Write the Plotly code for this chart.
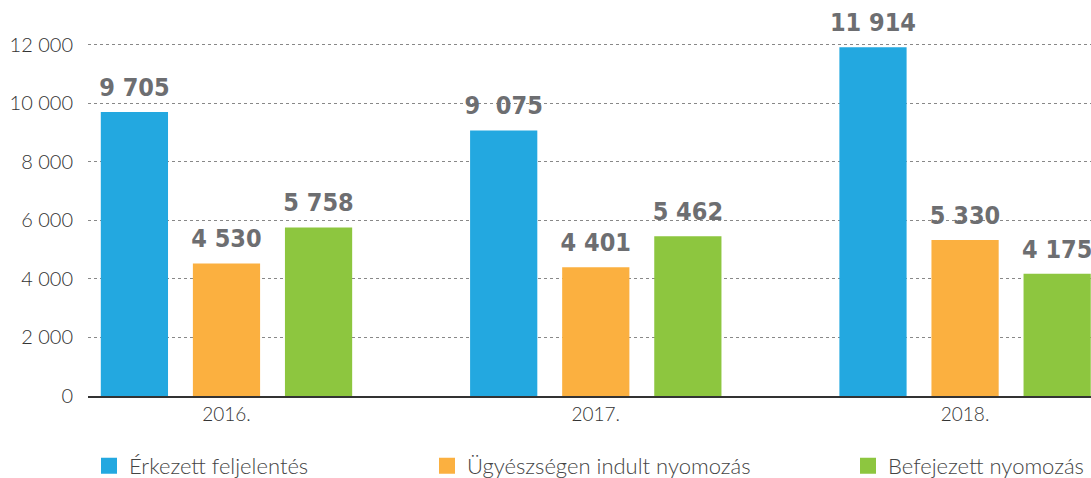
import plotly.graph_objects as go

years = ["2016.", "2017.", "2018."]
series_names = ["Érkezett feljelentés", "Ügyészségen indult nyomozás", "Befejezett nyomozás"]
erkezett = [9705, 9075, 11914]
ugyeszseg = [4530, 4401, 5330]
befejezett = [5758, 5462, 4175]
erkezett_lbl = ["9 705", "9  075", "11 914"]
ugyeszseg_lbl = ["4 530", "4 401", "5 330"]
befejezett_lbl = ["5 758", "5 462", "4 175"]
colors = ["#23a8e0", "#fbb040", "#8dc63f"]
y_ticks = [0, 2000, 4000, 6000, 8000, 10000, 12000]

label_font = dict(family="DejaVu Sans Condensed, Liberation Sans Narrow, sans-serif", size=25,
                  color="#6d6e71", weight="bold")

fig = go.Figure()
legends = ["legend", "legend2", "legend3"]
groups = ["a", "b", "c"]
for name, vals, lbls, col, lg, g in zip(series_names, [erkezett, ugyeszseg, befejezett],
                                        [erkezett_lbl, ugyeszseg_lbl, befejezett_lbl], colors, legends, groups):
    fig.add_trace(go.Bar(
        x=years, y=vals, name=name, marker=dict(color=col, line=dict(width=0)),
        offsetgroup=g, showlegend=False, hoverinfo="skip",
    ))
    fig.add_trace(go.Scatter(
        x=years, y=vals, mode="markers+text", text=lbls, textposition="top center",
        textfont=label_font, marker=dict(size=14, opacity=0),
        offsetgroup=g, cliponaxis=False, showlegend=False, hoverinfo="skip",
    ))
    # legend entry with a larger square swatch
    fig.add_trace(go.Scatter(
        x=[None], y=[None], mode="markers", name=name,
        marker=dict(symbol="square", size=16, color=col),
        offsetgroup=g, legend=lg, hoverinfo="skip",
    ))

leg_common = dict(orientation="h", yanchor="middle", xanchor="left",
                  font=dict(family="Lato, Open Sans, sans-serif", size=22, color="#444444", weight=300),
                  bgcolor="rgba(0,0,0,0)", itemwidth=30, tracegroupgap=0)
fig.update_layout(
    width=1091, height=478,
    margin=dict(l=88, r=0, t=36, b=82, autoexpand=False),
    paper_bgcolor="white", plot_bgcolor="white",
    barmode="group", bargap=0.252, bargroupgap=0.27,
    scattermode="group", scattergap=0.252,
    separators=", ",
    showlegend=True,
    legend=dict(x=(89 - 88) / 1003, y=-0.194, **leg_common),
    legend2=dict(x=(427 - 88) / 1003, y=-0.194, **leg_common),
    legend3=dict(x=(848 - 88) / 1003, y=-0.194, **leg_common),
    xaxis=dict(
        type="category", range=[-0.375, 2.341],
        showline=True, linecolor="#333333", linewidth=1.5,
        ticks="", showgrid=False,
        tickfont=dict(family="Lato, Open Sans, sans-serif", size=19, color="#333333", weight=300),
    ),
    yaxis=dict(
        range=[0, 12300], tickvals=y_ticks, tickformat=",d",
        showgrid=True, gridcolor="#888888", griddash="dot", gridwidth=1,
        zeroline=False, showline=False, ticks="", ticklabelstandoff=14,
        tickfont=dict(family="Lato, Open Sans, sans-serif", size=20, color="#333333", weight=300),
    ),
)
fig.write_html("out.html", config={"displayModeBar": False},
               post_script="document.body.style.margin='0';document.body.style.overflow='hidden';")
